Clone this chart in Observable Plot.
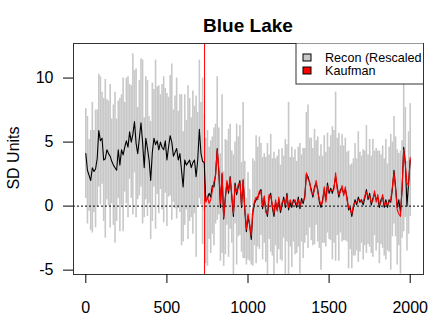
<!DOCTYPE html>
<html><head><meta charset="utf-8">
<script src="https://cdn.jsdelivr.net/npm/d3@7"></script>
<script src="https://cdn.jsdelivr.net/npm/@observablehq/plot@0.6"></script>
<style>body{margin:0;background:#fff} svg{display:block}</style>
</head><body><div id="chart"></div>
<script>
const title = "Blue Lake";
const yLabel = "SD Units";
const legendLabels = ["Recon (Rescaled", "Kaufman"];
const xTicks = [0, 500, 1000, 1500, 2000];
const yTicks = [-5, 0, 5, 10];
const reconStart = 0;
const step = 10;
const calibYear = 732;

// Recon (rescaled), one value per decade, year 0..2000
const recon = [
  4.1, 2.8, 2.4, 2.0, 3.0, 2.7, 2.9, 3.7, 5.9, 5.1,
  5.3, 3.6, 3.7, 4.4, 4.1, 3.9, 3.5, 3.2, 3.0, 2.8,
  4.4, 3.2, 4.4, 4.0, 4.6, 5.1, 4.6, 5.8, 5.0, 5.6,
  6.6, 4.9, 4.1, 5.3, 6.5, 5.0, 3.0, 5.3, 4.5, 3.6,
  2.0, 4.2, 5.3, 4.8, 5.1, 4.4, 5.0, 4.6, 4.4, 5.1,
  3.6, 4.6, 5.5, 5.0, 3.9, 4.2, 4.5, 3.6, 4.1, 2.8,
  1.5, 3.6, 3.2, 3.4, 3.6, 3.0, 3.4, 3.6, 2.3, 3.6,
  6.0, 4.1, 3.5, 3.4, 0.4, 0.6, 1.0, 0.7, 1.6, 1.5,
  2.5, 4.5, 2.7, -0.1, 2.5, -1.0, 0.7, 1.8, 1.0, 2.3,
  0.7, -0.8, 1.8, 0.9, 1.5, 2.0, -0.1, 2.0, -0.3, -2.0,
  -0.8, -1.5, -2.6, -0.5, 0.2, 0.5, 0.7, 1.0, 1.3, -0.2,
  0.6, -0.3, -0.8, 0.7, 1.0, -0.1, -0.8, 0.3, -0.3, 0.5,
  -0.5, 0.1, 0.7, -0.1, 1.0, -0.3, 0.3, -0.1, 0.5, 0.3,
  -0.1, 0.7, -0.2, 0.6, 0.2, 0.8, 2.5, 2.3, 1.8, 1.3,
  0.7, 1.5, 1.8, 1.3, 0.3, -0.1, 0.5, 1.3, 0.5, 1.8,
  1.0, 1.4, 1.0, 1.5, 2.3, 1.5, 0.7, 1.3, 1.4, 1.0,
  1.3, 0.7, -0.3, -0.1, -0.8, -0.1, 0.5, 0.1, 0.7, 0.3,
  0.5, 0.1, 0.6, 1.3, 0.5, 1.0, 0.1, 0.6, 1.0, 0.5,
  0.7, -0.1, 0.5, 0.7, -0.1, 0.5, -0.1, 0.5, 0.3, 1.3,
  2.8, 1.5, -0.1, 0.5, -0.5, 1.3, 4.6, 3.4, 0.0, 1.8,
  3.6
];

// Half-width of the grey uncertainty bars, per decade
const reconErr = [
  3.5, 4.2, 2.8, 3.9, 5.1, 3.2, 4.6, 3.8, 4.4, 5.0,
  3.6, 4.8, 6.2, 3.9, 4.1, 5.6, 3.3, 4.7, 5.9, 4.0,
  3.8, 5.2, 4.3, 6.0, 3.5, 4.9, 5.5, 3.7, 4.4, 6.3,
  4.0, 5.8, 3.6, 4.5, 5.0, 6.4, 3.9, 4.8, 5.3, 3.4,
  4.6, 5.4, 3.8, 6.6, 4.2, 5.0, 3.7, 4.9, 5.7, 4.1,
  5.2, 3.9, 4.7, 6.1, 3.6, 4.4, 5.5, 3.8, 4.6, 5.9,
  4.3, 5.1, 3.5, 6.0, 4.8, 3.9, 5.6, 4.2, 6.3, 3.7,
  5.4, 4.0, 6.5, 3.8, 4.9, 5.3, 3.6, 4.4, 3.8, 4.6,
  3.9, 5.6, 3.4, 4.2, 6.2, 3.7, 4.5, 3.3, 5.0, 4.1,
  3.6, 4.8, 3.2, 5.5, 3.9, 4.3, 3.5, 6.1, 3.8, 2.6,
  3.4, 2.8, 2.0, 4.2, 3.3, 5.0, 3.9, 4.4, 3.6, 4.0,
  3.5, 4.1, 5.7, 3.3, 4.6, 3.8, 5.0, 3.4, 4.2, 3.9,
  3.7, 4.4, 3.2, 5.3, 3.8, 8.4, 3.5, 4.7, 3.3, 4.1,
  3.6, 3.9, 5.1, 3.4, 4.3, 3.7, 4.8, 5.6, 3.5, 4.0,
  3.8, 4.5, 3.3, 4.1, 3.6, 4.9, 3.4, 4.2, 3.7, 3.9,
  3.6, 4.1, 5.2, 4.4, 6.6, 3.8, 5.0, 3.4, 4.2, 3.7,
  4.0, 3.5, 4.6, 3.3, 4.1, 3.8, 4.4, 3.6, 5.1, 3.9,
  3.4, 4.3, 3.7, 5.0, 3.5, 4.2, 3.8, 4.6, 3.3, 4.0,
  3.6, 4.4, 3.5, 4.0, 3.8, 4.7, 3.4, 4.1, 5.3, 3.7,
  4.2, 3.9, 4.5, 3.6, 4.8, 3.8, 6.6, 4.3, 3.5, 4.0,
  4.4
];

// Kaufman series, one value per decade, year 740..2000
const kaufmanStart = 740;
const kaufman = [
  0.3, 0.8, 0.2, 0.5, 1.2, 1.9,
  2.4, 4.4, 2.9, 0.2, 2.6, -0.9, 0.5, 2.0, 1.2, 2.2,
  0.9, -0.6, 1.6, 1.1, 1.7, 1.8, 0.1, 2.1, -0.1, -1.8,
  -0.6, -1.4, -2.3, -0.3, 0.4, 0.7, 0.5, 1.2, 1.1, 0.0,
  0.8, -0.5, -0.6, 0.9, 0.8, 0.1, -0.6, 0.5, -0.4, 0.7,
  -0.3, 0.3, 0.5, 0.1, 0.8, -0.1, 0.5, 0.1, 0.3, 0.5,
  0.1, 0.5, 0.0, 0.4, 0.4, 0.6, 2.6, 2.1, 1.9, 1.1,
  0.9, 1.3, 2.0, 1.1, 0.5, 0.1, 0.3, 1.5, 0.3, 1.6,
  1.2, 1.2, 1.2, 1.3, 2.6, 1.3, 0.9, 1.1, 1.6, 0.8,
  1.5, 0.5, -0.1, -0.3, -0.6, 0.1, 0.3, 0.3, 0.5, 0.5,
  0.3, 0.3, 0.8, 1.1, 0.7, 0.8, 0.3, 0.4, 1.2, 0.3,
  0.9, 0.1, 0.3, 0.9, 0.1, 0.3, 0.1, 0.3, 0.5, 1.5,
  2.6, 1.3, -0.3, -0.6, -0.8, 1.5, 4.4, 3.2, 1.8, 1.6,
  3.8
];

const reconData = recon.map((v, i) => ({year: reconStart + i * step, v, lo: v - reconErr[i], hi: v + reconErr[i]}));
const kaufData = kaufman.map((v, i) => ({year: kaufmanStart + i * step, v}));

const chart = Plot.plot({
  width: 448, height: 329,
  marginLeft: 73, marginRight: 25, marginTop: 43, marginBottom: 55,
  style: {fontFamily: "'Liberation Sans', Arial, sans-serif", fontSize: "16px", background: "#fff", color: "#000"},
  x: {domain: [-76, 2082]},
  y: {domain: [-5.34, 12.7]},
  marks: [
    Plot.ruleX(reconData, {x: "year", y1: "lo", y2: "hi", stroke: "#c8c8c8", strokeWidth: 1.6, clip: "frame"}),
    Plot.ruleY([0], {stroke: "#000", strokeDasharray: "2,2"}),
    Plot.ruleX([calibYear], {stroke: "red", strokeWidth: 1}),
    Plot.line(reconData, {x: "year", y: "v", stroke: "#000", strokeWidth: 1.1}),
    Plot.line(kaufData, {x: "year", y: "v", stroke: "red", strokeWidth: 1.1}),
    Plot.frame({stroke: "#333"}),
    Plot.axisX({ticks: xTicks, tickSize: 9, tickPadding: 18, tickFormat: d => String(d), label: null}),
    Plot.axisY({ticks: yTicks, tickSize: 10, tickPadding: 10, tickFormat: d => String(d), label: null})
  ]
});
document.getElementById("chart").appendChild(chart);

const svg = d3.select(chart);
svg.append("text").attr("x", 248).attr("y", 32).attr("text-anchor", "middle")
  .attr("font-weight", "bold").attr("font-size", 19).text(title);
svg.append("text").attr("transform", "translate(19,158) rotate(-90)").attr("text-anchor", "middle")
  .attr("font-size", 16).text(yLabel);

const defs = svg.append("defs");
defs.append("clipPath").attr("id", "plotclip").append("rect")
  .attr("x", 73).attr("y", 43).attr("width", 350).attr("height", 231);
const lg = svg.append("g").attr("clip-path", "url(#plotclip)")
  .attr("font-size", 12.6).attr("text-anchor", "start");
lg.append("rect").attr("x", 296).attr("y", 43).attr("width", 140).attr("height", 41)
  .attr("fill", "#fff").attr("stroke", "#333");
const legendFills = ["#c8c8c8", "red"];
legendLabels.forEach((lab, i) => {
  const cy = 57.5 + i * 13;
  lg.append("rect").attr("x", 303).attr("y", cy - 3.5).attr("width", 8).attr("height", 7)
    .attr("fill", legendFills[i]).attr("stroke", "#000");
  lg.append("text").attr("x", 325).attr("y", cy + 4.5).attr("text-anchor", "start").text(lab);
});
</script>
</body></html>
